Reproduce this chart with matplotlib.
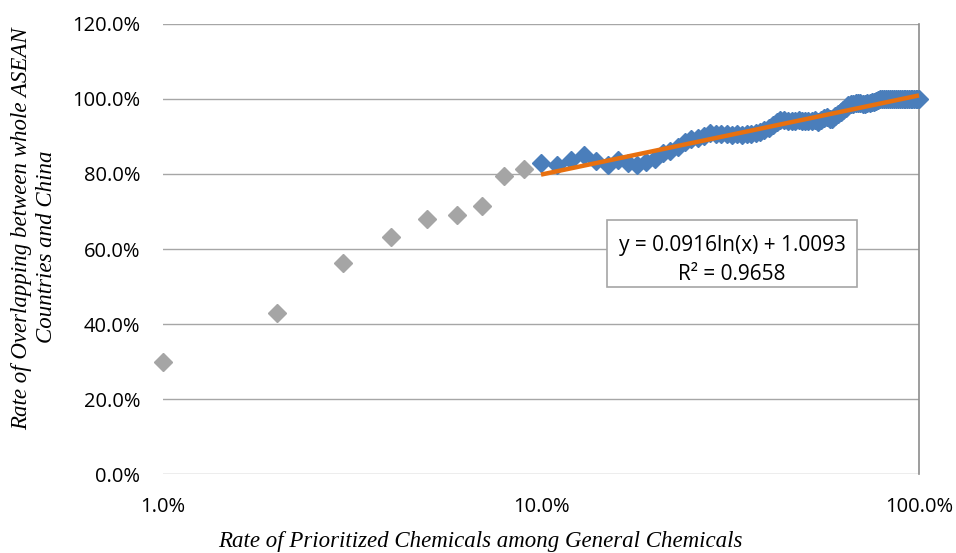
import numpy as np
import matplotlib
matplotlib.use("Agg")
import matplotlib.pyplot as plt
from matplotlib.patches import Rectangle
from matplotlib.ticker import FuncFormatter, FixedLocator, NullLocator

# ---- data ----
gray_x = [0.01, 0.02, 0.03, 0.04, 0.05, 0.06, 0.07, 0.08, 0.09]
gray_y = [0.300, 0.429, 0.562, 0.631, 0.681, 0.691, 0.714, 0.794, 0.812]

blue_x = [i / 100 for i in range(10, 101)]
blue_y = [
    0.830, 0.823, 0.836, 0.850, 0.835, 0.823, 0.838, 0.828, 0.823, 0.832,  # 10-19
    0.841, 0.857, 0.861, 0.872, 0.886, 0.892, 0.897, 0.902, 0.909, 0.907,  # 20-29
    0.906, 0.907, 0.904, 0.906, 0.905, 0.906, 0.907, 0.909, 0.913, 0.916,  # 30-39
    0.923, 0.930, 0.938, 0.945, 0.945, 0.942, 0.942, 0.942, 0.943, 0.941,  # 40-49
    0.941, 0.941, 0.941, 0.943, 0.939, 0.945, 0.948, 0.951, 0.947, 0.947,  # 50-59
    0.954, 0.960, 0.966, 0.971, 0.977, 0.983, 0.986, 0.987, 0.988, 0.989,  # 60-69
    0.988, 0.987, 0.987, 0.989, 0.990, 0.991, 0.992, 0.995, 0.998, 1.000,  # 70-79
    1.000, 1.000, 1.000, 1.000, 1.000, 1.000, 1.000, 1.000, 1.000, 1.000,  # 80-89
    1.000, 1.000, 1.000, 1.000, 1.000, 1.000, 1.000, 1.000, 1.000, 1.000,  # 90-99
    1.000,                                                                 # 100
]

fit_a = 0.0916
fit_b = 1.0093
fit_r2 = 0.9658
fit_x = [0.10, 1.00]

x_ticks = [0.01, 0.1, 1.0]
y_ticks = [0.0, 0.2, 0.4, 0.6, 0.8, 1.0, 1.2]

# ---- figure ----
W, H = 956, 553
fig = plt.figure(figsize=(W / 100, H / 100), dpi=100)
L, R, T, B = 163, 919, 23.8, 474.4
ax = fig.add_axes([L / W, 1 - B / H, (R - L) / W, (B - T) / H])

tick_font = "Open Sans"
grid_c = "#a6a6a6"

ax.set_xscale("log")
ax.set_xlim(0.01, 1.0)
ax.set_ylim(0, 1.2)

for yv in y_ticks:
    ax.axhline(yv, color=grid_c, lw=1.0, zorder=1)

ax.plot(gray_x, gray_y, linestyle="none", marker="D", ms=9, color="#a5a5a5",
        mec="#a5a5a5", zorder=3, clip_on=False)
ax.plot(blue_x, blue_y, linestyle="none", marker="D", ms=9, color="#4a7ebb",
        mec="#4a7ebb", zorder=3, clip_on=False)
fx = np.array(fit_x)
ax.plot(fx, fit_a * np.log(fx) + fit_b, color="#e8700f", lw=3.2, zorder=4,
        solid_capstyle="butt", clip_on=False)

for s in ["left", "top", "bottom"]:
    ax.spines[s].set_visible(False)
ax.spines["right"].set_color("#8c8c8c")
ax.spines["right"].set_linewidth(1.2)
ax.spines["right"].set_zorder(2)

ax.xaxis.set_major_locator(FixedLocator(x_ticks))
ax.xaxis.set_minor_locator(NullLocator())
ax.yaxis.set_major_locator(FixedLocator(y_ticks))
ax.xaxis.set_major_formatter(FuncFormatter(lambda v, p: f"{v*100:.1f}%"))
ax.yaxis.set_major_formatter(FuncFormatter(lambda v, p: f"{v*100:.1f}%"))
ax.tick_params(axis="both", length=0, labelsize=14.5, colors="#000000")
ax.tick_params(axis="x", pad=16.5)
ax.tick_params(axis="y", pad=16.5)
for lab in ax.get_xticklabels() + ax.get_yticklabels():
    lab.set_fontfamily(tick_font)

# trendline label box
bx0, bx1, by0, by1 = 607, 857, 220, 287
fig.patches.append(Rectangle((bx0 / W, 1 - by1 / H), (bx1 - bx0) / W, (by1 - by0) / H,
                             transform=fig.transFigure, facecolor="white",
                             edgecolor="#a6a6a6", lw=1.2, zorder=5))
cx = (bx0 + bx1) / 2 / W
fig.text(cx, 1 - 246 / H, f"y = {fit_a}ln(x) + {fit_b}", ha="center", va="center",
         fontsize=15, family=tick_font, zorder=6)
fig.text(cx, 1 - 275 / H, f"R² = {fit_r2}", ha="center", va="center",
         fontsize=15, family=tick_font, zorder=6)

serif = "Liberation Serif"
fig.text(480 / W, 1 - 541 / H, "Rate of Prioritized Chemicals among General Chemicals",
         ha="center", va="center", fontsize=16.5, family=serif, style="italic")
fig.text(22 / W, 1 - 229 / H, "Rate of Overlapping between whole ASEAN",
         ha="center", va="center", rotation=90, fontsize=16.5, family=serif, style="italic")
fig.text(47 / W, 1 - 247 / H, "Countries and China",
         ha="center", va="center", rotation=90, fontsize=16.5, family=serif, style="italic")

fig.savefig("out.png", dpi=100)
